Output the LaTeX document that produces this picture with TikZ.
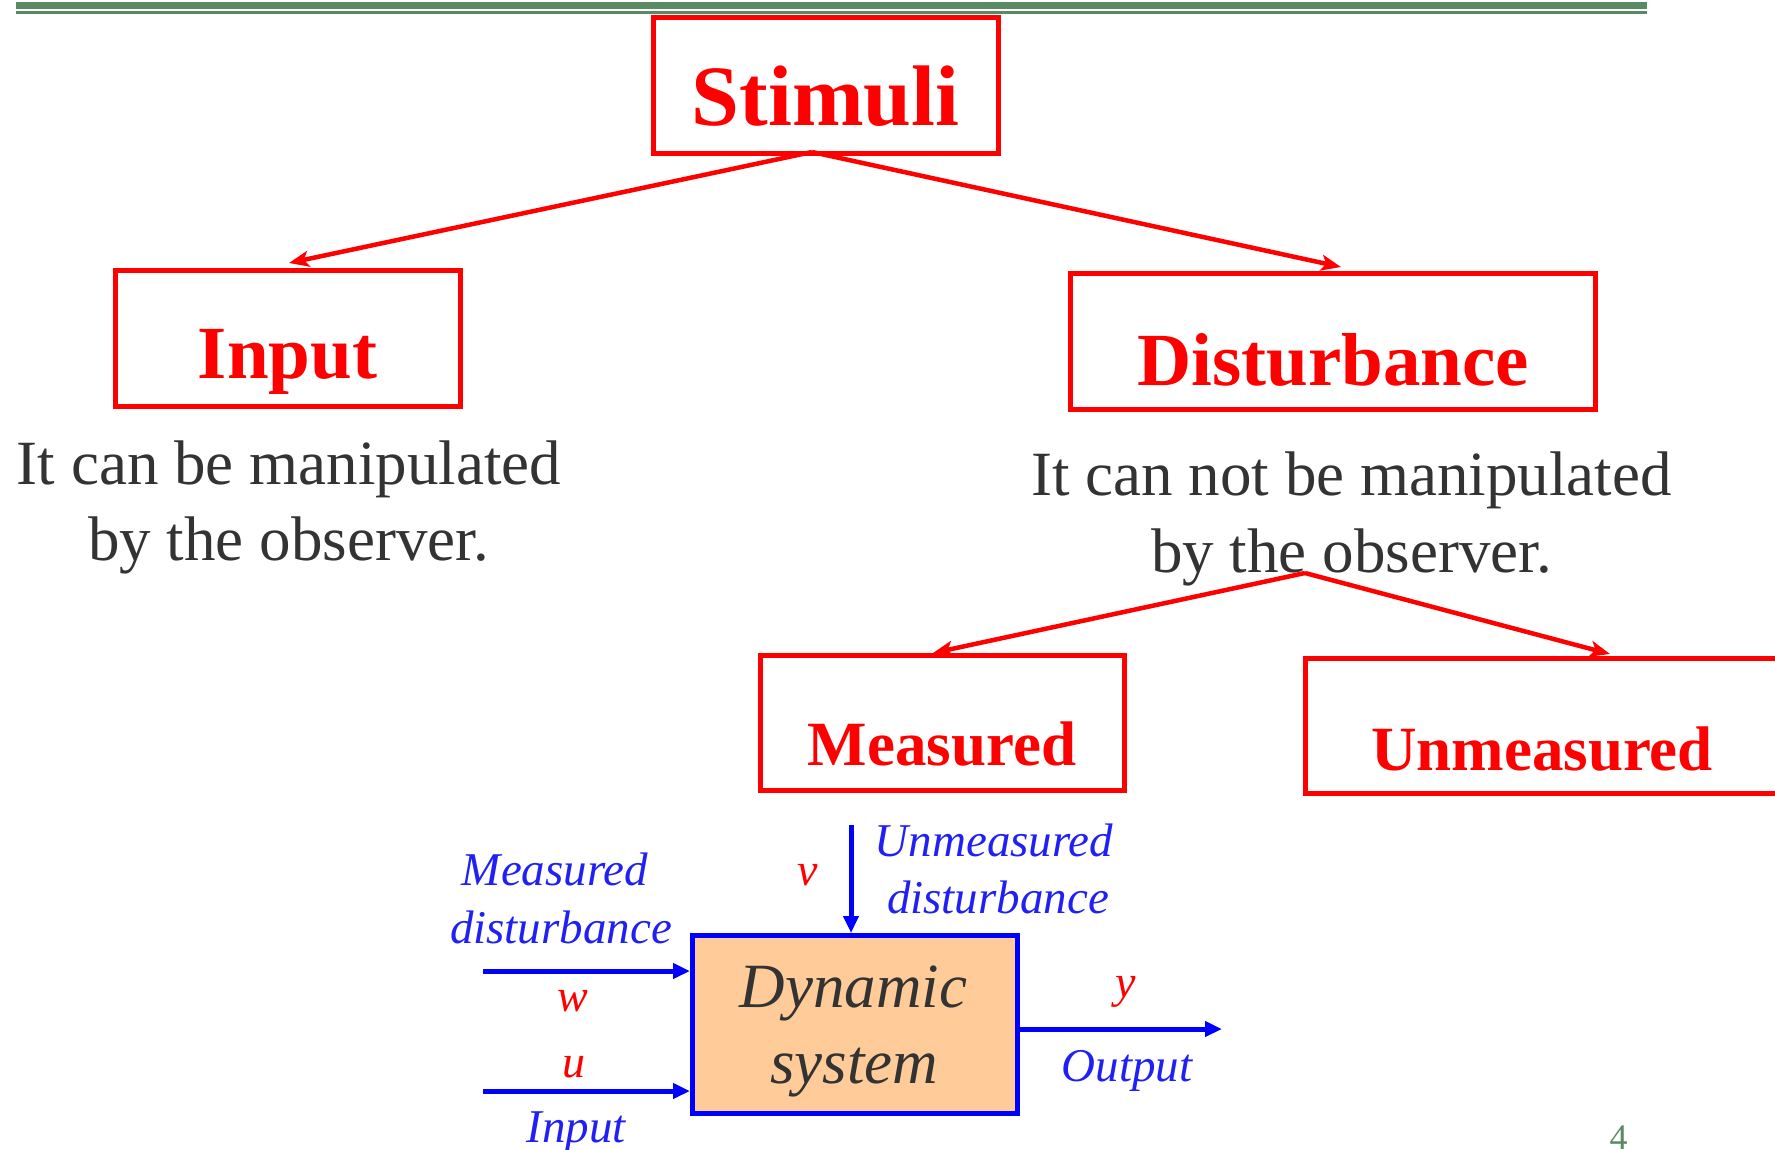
\documentclass[tikz,border=0pt]{standalone}
\usepackage{fontspec}
\setmainfont{Liberation Serif}
\usetikzlibrary{arrows.meta,calc}
\definecolor{slidegreen}{RGB}{90,138,100}
\definecolor{textgray}{RGB}{51,51,51}
\definecolor{labelblue}{RGB}{32,32,245}
\definecolor{peach}{RGB}{255,204,153}
\begin{document}
\begin{tikzpicture}[x=1pt,y=-1pt,
  redbox/.style={draw=red, line width=5pt, inner sep=0pt, outer sep=0pt},
  bigred/.style={anchor=base, inner sep=0pt, text=red, font=\fontsize{#1}{#1}\selectfont\bfseries},
  graytext/.style={anchor=base, inner sep=0pt, text=textgray, font=\fontsize{63}{63}\selectfont},
  bluelabel/.style={anchor=base, inner sep=0pt, text=labelblue, font=\fontsize{47}{47}\selectfont\itshape},
  varlabel/.style={anchor=base, inner sep=0pt, text=red, font=\fontsize{46}{46}\selectfont\itshape},
  redarrow/.style={draw=red, line width=4.5pt, -{Stealth[length=20pt,width=16pt,inset=5pt]}},
  bluearrow/.style={draw=blue, line width=5pt, -{Triangle[length=17pt,width=15pt]}}]
\useasboundingbox (0,0) rectangle (1775,1149);
\clip (0,0) rectangle (1775,1149);

% header rule
\draw[slidegreen, line width=7pt] (16,5.5) -- (1647,5.5);
\draw[slidegreen, line width=2.5pt] (16,12.5) -- (1647,12.5);

% classification boxes
\node[redbox, minimum width=345pt, minimum height=136pt] (stim) at (825.5,85.5) {};
\node[bigred=86] (stimT) at (825.5,125) {Stimuli};
\node[redbox, minimum width=345pt, minimum height=136pt] (inp) at (287.5,338.5) {};
\node[bigred=75] (inpT) at (287.5,378) {Input};
\node[redbox, minimum width=525pt, minimum height=136pt] (dist) at (1332.5,341.5) {};
\node[bigred=75] (distT) at (1333,385) {Disturbance};
\node[redbox, minimum width=364pt, minimum height=135pt] (meas) at (942,722.5) {};
\node[bigred=63] (measT) at (942,765) {Measured};
\node[redbox, minimum width=480pt, minimum height=135pt] (unmeas) at (1545,725.5) {};
\node[bigred=63] (unmeasT) at (1542,770) {Unmeasured};

% descriptions
\node[graytext] (canA) at (289,484) {It can be manipulated};
\node[graytext] (canB) at (288.5,560) {by the observer.};
\node[graytext] (cannotA) at (1351.5,495) {It can not be manipulated};
\node[graytext] (cannotB) at (1351.5,572) {by the observer.};

% tree connectors
\coordinate (stimJ) at (812,152);
\coordinate (inpTip) at (289,263);
\coordinate (distTip) at (1341,267);
\draw[redarrow] (stimJ) -- (inpTip);
\draw[redarrow] (stimJ) -- (distTip);
\coordinate (distJ) at (1305,573);
\coordinate (measTip) at (933,653);
\coordinate (unmeasTip) at (1610,654);
\draw[redarrow] (distJ) -- (measTip);
\draw[redarrow] (distJ) -- (unmeasTip);

% block diagram
\node[draw=blue, line width=5pt, fill=peach, minimum width=325pt, minimum height=178pt,
      inner sep=0pt, outer sep=0pt] (dyn) at (855,1024.5) {};
\node[anchor=base, inner sep=0pt, text=textgray, font=\fontsize{63}{63}\selectfont\itshape] (dynA) at (853.5,1007) {Dynamic};
\node[anchor=base, inner sep=0pt, text=textgray, font=\fontsize{63}{63}\selectfont\itshape] (dynB) at (854,1083) {system};

\coordinate (wStart) at (483,971);
\coordinate (uStart) at (483,1091);
\coordinate (vStart) at (851,825);
\coordinate (yEnd) at (1222,1029);
\draw[bluearrow] (wStart) -- ($(wStart -| dyn.west)+(-2.5,0)$);
\draw[bluearrow] (uStart) -- ($(uStart -| dyn.west)+(-2.5,0)$);
\draw[bluearrow] (vStart) -- ($(vStart |- dyn.north)+(0,-2.5)$);
\draw[bluearrow] (yEnd -| dyn.east) -- (yEnd);

\node[bluelabel] (lmA) at (555,885) {Measured};
\node[bluelabel] (lmB) at (561,943) {disturbance};
\node[varlabel] (lw) at (572.5,1011) {w};
\node[varlabel] (lu) at (573.5,1077) {u};
\node[bluelabel] (lin) at (576,1142) {Input};
\node[varlabel] (lv) at (807.5,885) {v};
\node[bluelabel] (luA) at (994,856) {Unmeasured};
\node[bluelabel] (luB) at (998,913) {disturbance};
\node[varlabel] (ly) at (1126,997) {y};
\node[bluelabel] (lout) at (1127,1081) {Output};

% page number
\node[anchor=base, inner sep=0pt, text=slidegreen, font=\fontsize{36}{36}\selectfont] (pg) at (1618.5,1149) {4};
\end{tikzpicture}
\end{document}
